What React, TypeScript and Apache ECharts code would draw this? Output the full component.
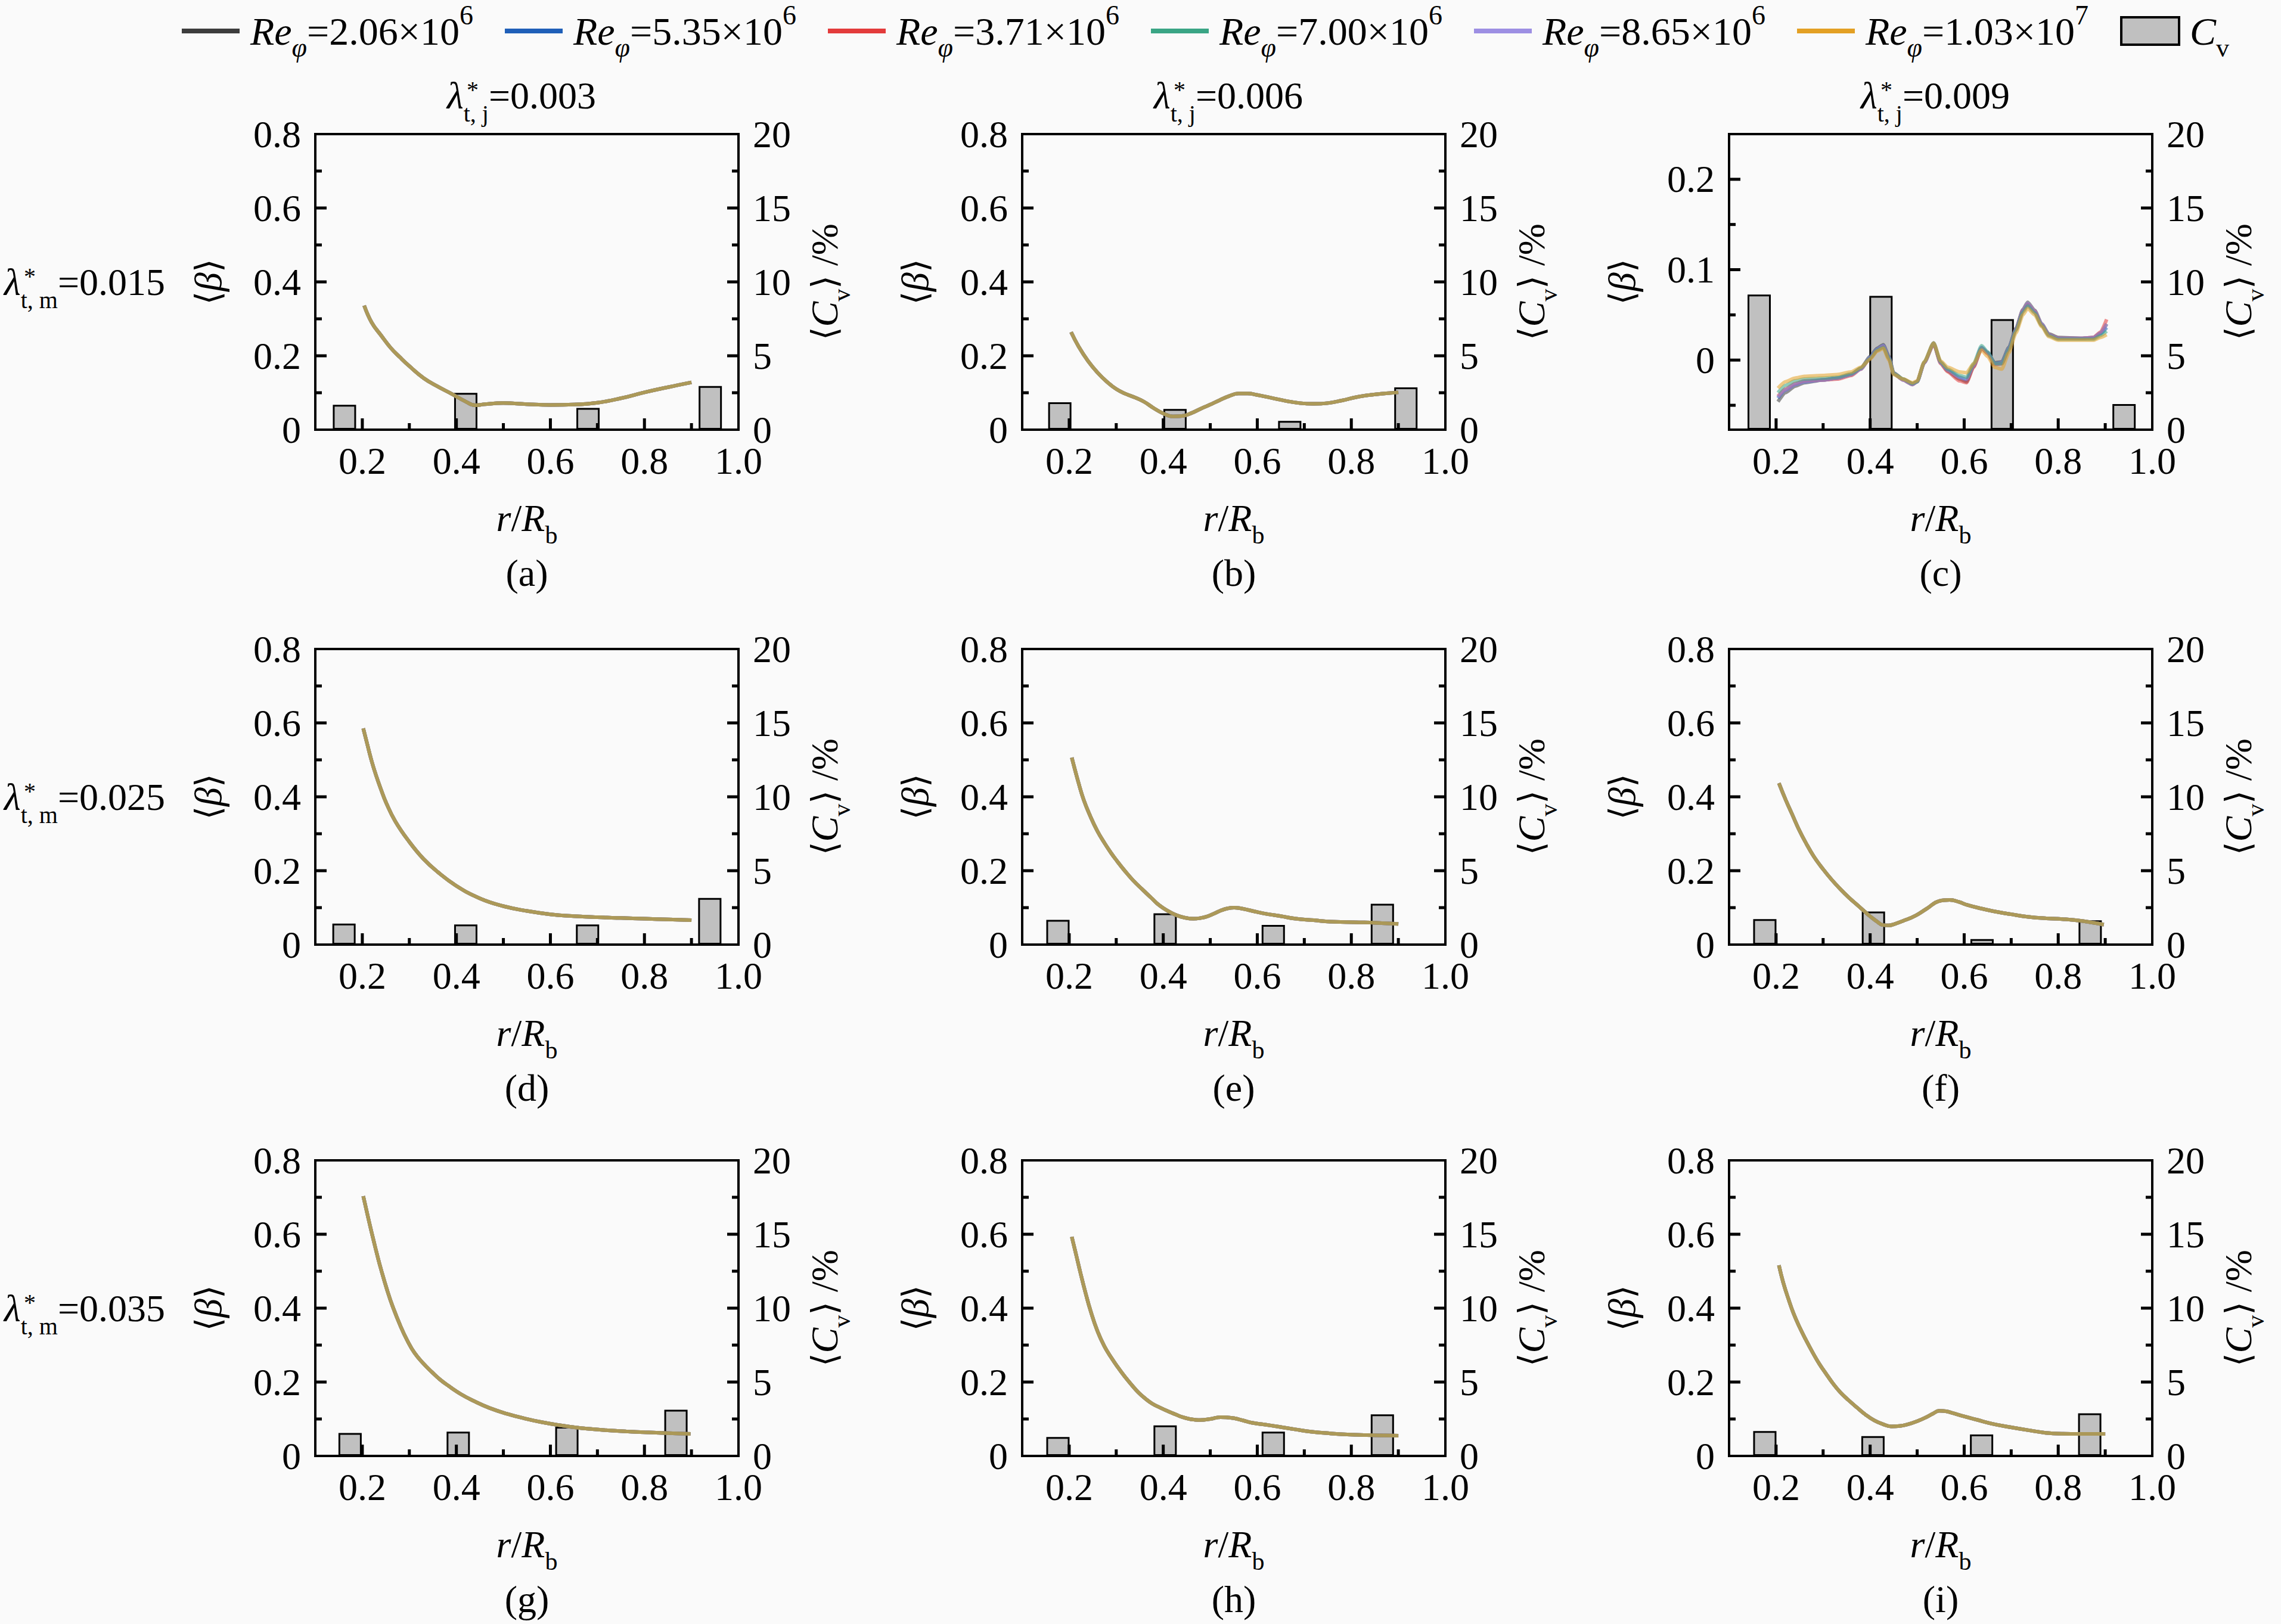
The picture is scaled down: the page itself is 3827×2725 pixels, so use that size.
import React, { useEffect, useRef } from 'react';
import * as echarts from 'echarts';

const FONT = 'Liberation Serif';
const BRACKET_FONT = 'DejaVu Sans';

// ---------- legend / labels ----------
const reMantissa = ['2.06', '5.35', '3.71', '7.00', '8.65', '1.03'];
const reExponent = ['6', '6', '6', '6', '6', '7'];
const lineColors = ['#3d3d3d', '#1f5fb8', '#e33b3b', '#3aa585', '#9d8fe3', '#e3a024'];
const drawOrder = [0, 1, 2, 4, 3, 5];
const cvName = 'Cv';
const lambdaJ = ['0.003', '0.006', '0.009'];
const lambdaM = ['0.015', '0.025', '0.035'];
const panelLetters = ['(a)', '(b)', '(c)', '(d)', '(e)', '(f)', '(g)', '(h)', '(i)'];

// ---------- tick values ----------
const rTickMajor = [0.2, 0.4, 0.6, 0.8];
const rTickMinor = [0.3, 0.5, 0.7, 0.9];
const betaTickMajor = [0.2, 0.4, 0.6];
const betaTickMinor = [0.1, 0.3, 0.5, 0.7];
const betaTickMajorC = [0, 0.1, 0.2];
const betaTickMinorC = [-0.05, 0.05, 0.15];
const cvTickMajor = [5, 10, 15];
const cvTickMinor = [2.5, 7.5, 12.5, 17.5];

// ---------- data: r/Rb and <beta> ----------
const aR = [0.204, 0.22, 0.24, 0.26, 0.28, 0.30, 0.33, 0.36, 0.39, 0.42, 0.44, 0.46, 0.50, 0.55, 0.60, 0.65, 0.70, 0.75, 0.80, 0.85, 0.90];
const aBeta = [0.336, 0.29, 0.255, 0.222, 0.196, 0.172, 0.14, 0.117, 0.097, 0.076, 0.066, 0.069, 0.072, 0.069, 0.067, 0.068, 0.073, 0.085, 0.101, 0.115, 0.128];

const bR = [0.204, 0.22, 0.24, 0.26, 0.28, 0.30, 0.32, 0.34, 0.36, 0.38, 0.40, 0.42, 0.44, 0.46, 0.48, 0.50, 0.52, 0.54, 0.56, 0.58, 0.60, 0.63, 0.66, 0.69, 0.72, 0.75, 0.78, 0.81, 0.84, 0.87, 0.90];
const bBeta = [0.264, 0.225, 0.186, 0.155, 0.13, 0.11, 0.097, 0.087, 0.075, 0.058, 0.044, 0.036, 0.037, 0.045, 0.057, 0.068, 0.08, 0.091, 0.098, 0.098, 0.094, 0.086, 0.078, 0.072, 0.07, 0.072, 0.079, 0.088, 0.094, 0.098, 0.101];

const cR = [0.204, 0.22, 0.24, 0.26, 0.30, 0.33, 0.36, 0.38, 0.40, 0.415, 0.428, 0.44, 0.45, 0.47, 0.49, 0.50, 0.515, 0.535, 0.55, 0.565, 0.59, 0.605, 0.62, 0.637, 0.65, 0.665, 0.68, 0.695, 0.71, 0.725, 0.735, 0.75, 0.765, 0.78, 0.80, 0.85, 0.875, 0.89, 0.903];
const cBeta1 = [-0.046, -0.036, -0.029, -0.025, -0.022, -0.020, -0.016, -0.009, 0.004, 0.013, 0.017, 0.004, -0.014, -0.021, -0.026, -0.024, -0.003, 0.018, -0.003, -0.012, -0.021, -0.024, -0.007, 0.013, 0.008, -0.003, -0.002, 0.014, 0.035, 0.056, 0.064, 0.055, 0.040, 0.029, 0.025, 0.024, 0.025, 0.030, 0.040];
const cBeta2 = [-0.042, -0.033, -0.027, -0.024, -0.022, -0.020, -0.016, -0.010, 0.003, 0.012, 0.016, 0.003, -0.015, -0.022, -0.027, -0.024, -0.003, 0.019, -0.003, -0.011, -0.019, -0.022, -0.006, 0.014, 0.008, -0.004, -0.003, 0.013, 0.034, 0.055, 0.062, 0.053, 0.039, 0.028, 0.024, 0.024, 0.024, 0.029, 0.036];
const cBeta3 = [-0.040, -0.032, -0.026, -0.023, -0.022, -0.021, -0.017, -0.010, 0.002, 0.011, 0.015, 0.002, -0.015, -0.022, -0.027, -0.024, -0.003, 0.018, -0.004, -0.013, -0.023, -0.025, -0.008, 0.013, 0.007, -0.005, -0.004, 0.012, 0.034, 0.055, 0.062, 0.054, 0.039, 0.028, 0.024, 0.024, 0.025, 0.031, 0.045];
const cBeta4 = [-0.036, -0.028, -0.023, -0.021, -0.020, -0.019, -0.015, -0.009, 0.002, 0.011, 0.014, 0.002, -0.015, -0.021, -0.026, -0.024, -0.002, 0.019, -0.002, -0.010, -0.017, -0.019, -0.004, 0.016, 0.009, -0.004, -0.004, 0.012, 0.033, 0.053, 0.060, 0.052, 0.038, 0.027, 0.023, 0.023, 0.023, 0.027, 0.032];
const cBeta5 = [-0.041, -0.033, -0.027, -0.024, -0.022, -0.020, -0.016, -0.010, 0.003, 0.012, 0.016, 0.003, -0.015, -0.022, -0.027, -0.024, -0.003, 0.019, -0.003, -0.011, -0.019, -0.021, -0.006, 0.014, 0.008, -0.004, -0.003, 0.013, 0.034, 0.055, 0.063, 0.054, 0.040, 0.028, 0.024, 0.024, 0.025, 0.030, 0.040];
const cBeta6 = [-0.031, -0.024, -0.020, -0.018, -0.017, -0.016, -0.013, -0.008, 0.001, 0.010, 0.013, 0.000, -0.016, -0.021, -0.025, -0.023, -0.002, 0.019, -0.001, -0.008, -0.013, -0.014, -0.004, 0.011, 0.004, -0.008, -0.010, 0.008, 0.030, 0.050, 0.057, 0.050, 0.037, 0.026, 0.022, 0.022, 0.022, 0.025, 0.028];

const dR = [0.202, 0.21, 0.22, 0.23, 0.24, 0.25, 0.27, 0.30, 0.33, 0.36, 0.40, 0.45, 0.50, 0.55, 0.60, 0.65, 0.70, 0.75, 0.80, 0.85, 0.90];
const dBeta = [0.585, 0.545, 0.496, 0.455, 0.419, 0.386, 0.334, 0.278, 0.232, 0.197, 0.159, 0.125, 0.104, 0.091, 0.082, 0.077, 0.074, 0.072, 0.07, 0.068, 0.066];

const eR = [0.2055, 0.22, 0.231, 0.245, 0.26, 0.275, 0.289, 0.30, 0.318, 0.335, 0.355, 0.375, 0.391, 0.41, 0.427, 0.445, 0.464, 0.48, 0.493, 0.508, 0.522, 0.537, 0.551, 0.565, 0.58, 0.60, 0.624, 0.65, 0.682, 0.72, 0.755, 0.79, 0.828, 0.865, 0.90];
const eBeta = [0.506, 0.437, 0.391, 0.347, 0.307, 0.275, 0.248, 0.229, 0.2, 0.175, 0.15, 0.126, 0.107, 0.091, 0.08, 0.073, 0.07, 0.072, 0.076, 0.084, 0.092, 0.098, 0.1, 0.098, 0.094, 0.088, 0.082, 0.077, 0.07, 0.066, 0.062, 0.061, 0.06, 0.058, 0.056];

const fR = [0.206, 0.22, 0.234, 0.248, 0.263, 0.28, 0.30, 0.318, 0.336, 0.355, 0.372, 0.387, 0.4015, 0.415, 0.427, 0.44, 0.4525, 0.47, 0.496, 0.52, 0.547, 0.569, 0.59, 0.605, 0.635, 0.664, 0.70, 0.737, 0.775, 0.809, 0.85, 0.897];
const fBeta = [0.437, 0.393, 0.353, 0.313, 0.276, 0.239, 0.204, 0.176, 0.151, 0.127, 0.108, 0.091, 0.075, 0.062, 0.053, 0.052, 0.056, 0.064, 0.078, 0.097, 0.118, 0.121, 0.115, 0.108, 0.098, 0.09, 0.082, 0.075, 0.071, 0.069, 0.064, 0.054];

const gR = [0.202, 0.209, 0.2166, 0.224, 0.231, 0.24, 0.253, 0.265, 0.282, 0.295, 0.311, 0.33, 0.348, 0.365, 0.384, 0.41, 0.435, 0.47, 0.508, 0.545, 0.581, 0.62, 0.654, 0.69, 0.727, 0.765, 0.80, 0.85, 0.898];
const gBeta = [0.703, 0.664, 0.622, 0.583, 0.547, 0.504, 0.448, 0.403, 0.349, 0.314, 0.279, 0.25, 0.227, 0.207, 0.189, 0.167, 0.15, 0.13, 0.114, 0.1015, 0.0915, 0.083, 0.077, 0.0725, 0.0688, 0.066, 0.064, 0.0617, 0.0596];

const hR = [0.2055, 0.215, 0.224, 0.235, 0.2456, 0.26, 0.2747, 0.29, 0.304, 0.318, 0.333, 0.347, 0.362, 0.376, 0.391, 0.41, 0.427, 0.441, 0.456, 0.467, 0.478, 0.50, 0.522, 0.537, 0.551, 0.57, 0.588, 0.615, 0.646, 0.68, 0.719, 0.755, 0.791, 0.845, 0.90];
const hBeta = [0.593, 0.543, 0.495, 0.44, 0.392, 0.338, 0.297, 0.265, 0.239, 0.215, 0.192, 0.172, 0.155, 0.142, 0.132, 0.121, 0.112, 0.105, 0.1, 0.098, 0.097, 0.1, 0.105, 0.104, 0.102, 0.096, 0.09, 0.085, 0.079, 0.072, 0.065, 0.061, 0.058, 0.056, 0.055];

const iR = [0.206, 0.215, 0.2267, 0.237, 0.2486, 0.263, 0.2777, 0.292, 0.307, 0.321, 0.336, 0.354, 0.372, 0.39, 0.4088, 0.427, 0.445, 0.463, 0.4816, 0.50, 0.518, 0.533, 0.547, 0.561, 0.576, 0.60, 0.627, 0.66, 0.70, 0.735, 0.773, 0.81, 0.846, 0.9];
const iBeta = [0.516, 0.47, 0.423, 0.386, 0.352, 0.315, 0.28, 0.249, 0.221, 0.196, 0.173, 0.151, 0.131, 0.112, 0.096, 0.086, 0.08, 0.081, 0.086, 0.094, 0.104, 0.114, 0.122, 0.121, 0.116, 0.107, 0.098, 0.087, 0.0775, 0.07, 0.0626, 0.06, 0.0596, 0.0596];

// ---------- data: Cv bars (r/Rb position, Cv %) ----------
const aBarR = [0.162, 0.42, 0.68, 0.94];
const aCv = [1.68, 2.49, 1.47, 2.95];
const bBarR = [0.18, 0.425, 0.669, 0.916];
const bCv = [1.85, 1.4, 0.59, 2.86];
const cBarR = [0.164, 0.423, 0.681, 0.94];
const cCv = [9.14, 9.05, 7.48, 1.73];
const dBarR = [0.161, 0.42, 0.679, 0.939];
const dCv = [1.42, 1.36, 1.36, 3.16];
const eBarR = [0.176, 0.404, 0.634, 0.866];
const eCv = [1.67, 2.12, 1.33, 2.76];
const fBarR = [0.176, 0.407, 0.638, 0.868];
const fCv = [1.72, 2.24, 0.37, 1.64];
const gBarR = [0.174, 0.404, 0.635, 0.867];
const gCv = [1.55, 1.64, 1.98, 3.13];
const hBarR = [0.176, 0.404, 0.634, 0.866];
const hCv = [1.28, 2.07, 1.64, 2.81];
const iBarR = [0.176, 0.406, 0.637, 0.867];
const iCv = [1.68, 1.34, 1.45, 2.88];

// axis extents
const rMin = 0.1;
const rMax = 1.0;
const betaMin = [0, 0, -0.077, 0, 0, 0, 0, 0, 0];
const betaMax = [0.8, 0.8, 0.25, 0.8, 0.8, 0.8, 0.8, 0.8, 0.8];
const cvMax = 20;

const panels = [
  { r: aR, betas: [aBeta, aBeta, aBeta, aBeta, aBeta, aBeta], barR: aBarR, cv: aCv },
  { r: bR, betas: [bBeta, bBeta, bBeta, bBeta, bBeta, bBeta], barR: bBarR, cv: bCv },
  { r: cR, betas: [cBeta1, cBeta2, cBeta3, cBeta4, cBeta5, cBeta6], barR: cBarR, cv: cCv },
  { r: dR, betas: [dBeta, dBeta, dBeta, dBeta, dBeta, dBeta], barR: dBarR, cv: dCv },
  { r: eR, betas: [eBeta, eBeta, eBeta, eBeta, eBeta, eBeta], barR: eBarR, cv: eCv },
  { r: fR, betas: [fBeta, fBeta, fBeta, fBeta, fBeta, fBeta], barR: fBarR, cv: fCv },
  { r: gR, betas: [gBeta, gBeta, gBeta, gBeta, gBeta, gBeta], barR: gBarR, cv: gCv },
  { r: hR, betas: [hBeta, hBeta, hBeta, hBeta, hBeta, hBeta], barR: hBarR, cv: hCv },
  { r: iR, betas: [iBeta, iBeta, iBeta, iBeta, iBeta, iBeta], barR: iBarR, cv: iCv },
];

// ---------- layout ----------
const PAGE_W = 3827;
const PAGE_H = 2725;
const colLeft = [529, 1715, 2901];
const rowTop = [225, 1089, 1947];
const plotW = 710;
const plotH = 496;
const TICK_MAJOR = 19;
const TICK_MINOR = 11;

const seriesNames = reMantissa.map((m, k) => `Re_φ=${m}×10^${reExponent[k]}`);

const txt = { fontFamily: FONT, color: '#000' };
const rich: any = {
  n: { ...txt, fontSize: 64, lineHeight: 100 },
  i: { ...txt, fontSize: 64, lineHeight: 100, fontStyle: 'italic' },
  sub: { ...txt, fontSize: 42, lineHeight: 60, verticalAlign: 'bottom' },
  br: { fontFamily: BRACKET_FONT, color: '#000', fontSize: 58, lineHeight: 100 },
  ls: { ...txt, fontSize: 40, lineHeight: 54, verticalAlign: 'bottom' },
};
const legendRich: any = {
  n: { ...txt, fontSize: 66, lineHeight: 100 },
  ip: { ...txt, fontSize: 66, lineHeight: 100, fontStyle: 'italic', padding: [0, 0, 0, 13] },
  sub: { ...txt, fontSize: 44, lineHeight: 56, verticalAlign: 'bottom' },
  subi: { ...txt, fontSize: 46, lineHeight: 52, verticalAlign: 'bottom', fontStyle: 'italic' },
  sup: { ...txt, fontSize: 46, lineHeight: 58, verticalAlign: 'top' },
};

const fmtBeta = (v: number) => (Math.abs(v) < 1e-9 ? '0' : (Math.round(v * 10) / 10).toFixed(1));
const fmtR = (v: number) => (Math.round(v * 10) / 10).toFixed(1);
const fmtCv = (v: number) => String(Math.round(v));

const frameStyle = { color: '#000', width: 4 };
const labelBase = { show: true, fontFamily: FONT, fontSize: 64, color: '#000', lineHeight: 50 };

function buildTexts() {
  const els: any[] = [];
  panels.forEach((p, idx) => {
    const col = idx % 3;
    const row = Math.floor(idx / 3);
    els.push({
      type: 'text', x: colLeft[col] + plotW / 2, y: rowTop[row] + plotH + 240, silent: true,
      style: { text: panelLetters[idx], fontFamily: FONT, fontSize: 64, fill: '#000', textAlign: 'center', verticalAlign: 'middle' },
    });
  });
  lambdaJ.forEach((v, c) => {
    const x0 = colLeft[c] + plotW / 2 - 134;
    els.push({
      type: 'text', x: x0, y: 160, silent: true,
      style: { text: `{i|λ}{ls|t, j}{n|=${v}}`, rich, fontFamily: FONT, fontSize: 64, fill: '#000', textAlign: 'left', verticalAlign: 'middle' },
    });
    els.push({
      type: 'text', x: x0 + 33, y: 150, silent: true,
      style: { text: '*', fontFamily: FONT, fontSize: 40, fill: '#000', textAlign: 'left', verticalAlign: 'middle' },
    });
  });
  lambdaM.forEach((v, r) => {
    const yc = rowTop[r] + plotH / 2;
    els.push({
      type: 'text', x: 7, y: yc, silent: true,
      style: { text: `{i|λ}{ls|t, m}{n|=${v}}`, rich, fontFamily: FONT, fontSize: 64, fill: '#000', textAlign: 'left', verticalAlign: 'middle' },
    });
    els.push({
      type: 'text', x: 40, y: yc - 10, silent: true,
      style: { text: '*', fontFamily: FONT, fontSize: 40, fill: '#000', textAlign: 'left', verticalAlign: 'middle' },
    });
  });
  return els;
}

function buildOption() {
  const grid: any[] = [];
  const xAxis: any[] = [];
  const yAxis: any[] = [];
  const series: any[] = [];

  panels.forEach((p, idx) => {
    const col = idx % 3;
    const row = Math.floor(idx / 3);
    const special = betaMin[idx] !== 0;
    grid.push({
      left: colLeft[col], top: rowTop[row], width: plotW, height: plotH,
      show: true, borderColor: '#000', borderWidth: 4, backgroundColor: 'rgba(0,0,0,0)',
      containLabel: false, outerBoundsMode: 'none',
    });
    xAxis.push({
      type: 'value', gridIndex: idx, position: 'bottom', min: rMin, max: rMax,
      minInterval: 0.2, maxInterval: 0.2, z: 10,
      axisLine: { show: true, onZero: false, lineStyle: frameStyle },
      axisTick: { show: false },
      axisLabel: { ...labelBase, margin: 27, showMinLabel: false, showMaxLabel: true, formatter: fmtR },
      splitLine: { show: false },
      name: '{i|r}{n|/}{i|R}{sub|b}', nameLocation: 'middle', nameGap: 98, nameMoveOverlap: false,
      nameTextStyle: { rich, fontFamily: FONT, fontSize: 64, color: '#000' },
    });
    const leftAxis: any = {
      type: 'value', gridIndex: idx, position: 'left', min: betaMin[idx], max: betaMax[idx], z: 10,
      axisLine: { show: true, onZero: false, lineStyle: frameStyle },
      axisTick: { show: false },
      axisLabel: { ...labelBase, margin: 24, showMinLabel: !special, showMaxLabel: !special, formatter: fmtBeta },
      splitLine: { show: false },
      name: '{br|⟨}{i|β}{br|⟩}', nameLocation: 'middle', nameGap: 130, nameRotate: 90, nameMoveOverlap: false,
      nameTextStyle: { rich, fontFamily: FONT, fontSize: 64, color: '#000' },
    };
    if (special) { leftAxis.minInterval = 0.1; leftAxis.maxInterval = 0.1; } else { leftAxis.interval = 0.2; }
    yAxis.push(leftAxis);
    yAxis.push({
      type: 'value', gridIndex: idx, position: 'right', min: 0, max: cvMax, interval: 5, z: 10,
      axisLine: { show: true, onZero: false, lineStyle: frameStyle },
      axisTick: { show: false },
      axisLabel: { ...labelBase, margin: 24, showMinLabel: true, showMaxLabel: true, formatter: fmtCv },
      splitLine: { show: false },
      name: '{br|⟨}{i|C}{sub|v}{br|⟩}{n| /%}', nameLocation: 'middle', nameGap: 94, nameRotate: 90, nameMoveOverlap: false,
      nameTextStyle: { rich, fontFamily: FONT, fontSize: 64, color: '#000' },
    });

    series.push({
      type: 'bar', name: cvName, xAxisIndex: idx, yAxisIndex: idx * 2 + 1, barWidth: 39, z: 2, silent: true,
      itemStyle: { color: '#c0c0c0', borderColor: '#000', borderWidth: 3 },
      data: p.barR.map((x, k) => [x, p.cv[k]]),
    });
    drawOrder.forEach((k) => {
      const b = p.betas[k];
      const s: any = {
        type: 'line', name: seriesNames[k], xAxisIndex: idx, yAxisIndex: idx * 2, z: 3, silent: true,
        symbol: 'none', showSymbol: false, smooth: special ? 0.2 : 0.45,
        itemStyle: { color: lineColors[k] },
        lineStyle: { color: lineColors[k], width: 6, opacity: 0.55 },
        data: p.r.map((x, j) => [x, b[j]]),
      };
      if (special) s.smoothMonotone = 'x';
      series.push(s);
    });
  });

  const legendData: any[] = seriesNames.map((n) => ({ name: n, icon: 'path://M0 0H100V8H0Z' }));
  legendData.push({ name: cvName, icon: 'rect', itemStyle: { color: '#c0c0c0', borderColor: '#000', borderWidth: 4 } });

  return {
    animation: false,
    backgroundColor: '#fafafa',
    textStyle: { fontFamily: FONT },
    legend: {
      show: true, left: 305, top: 2, width: 3500, padding: 0, orient: 'horizontal',
      itemWidth: 97, itemHeight: 46, itemGap: 53, selectedMode: false,
      data: legendData,
      formatter: (name: string) => {
        if (name === cvName) return '{ip|C}{sub|v}';
        const k = seriesNames.indexOf(name);
        return `{ip|Re}{subi|φ}{n|=${reMantissa[k]}×10}{sup|${reExponent[k]}}`;
      },
      textStyle: { fontFamily: FONT, fontSize: 66, color: '#000', rich: legendRich },
    },
    grid, xAxis, yAxis, series,
  };
}

// inward ticks placed through the axes' own scales
function buildTicks(chart: any) {
  const els: any[] = [];
  const seg = (x1: number, y1: number, x2: number, y2: number) => ({
    type: 'line', silent: true, z: 50,
    shape: { x1, y1, x2, y2 },
    style: { stroke: '#000', lineWidth: 5 },
  });
  panels.forEach((p, idx) => {
    const col = idx % 3;
    const row = Math.floor(idx / 3);
    const left = colLeft[col];
    const right = left + plotW;
    const bottom = rowTop[row] + plotH;
    const special = betaMin[idx] !== 0;
    const xPix = (v: number) => Number(chart.convertToPixel({ xAxisIndex: idx }, v));
    const lPix = (v: number) => Number(chart.convertToPixel({ yAxisIndex: idx * 2 }, v));
    const rPix = (v: number) => Number(chart.convertToPixel({ yAxisIndex: idx * 2 + 1 }, v));
    rTickMajor.forEach((v) => { const x = xPix(v); els.push(seg(x, bottom, x, bottom - TICK_MAJOR)); });
    rTickMinor.forEach((v) => { const x = xPix(v); els.push(seg(x, bottom, x, bottom - TICK_MINOR)); });
    (special ? betaTickMajorC : betaTickMajor).forEach((v) => { const y = lPix(v); els.push(seg(left, y, left + TICK_MAJOR, y)); });
    (special ? betaTickMinorC : betaTickMinor).forEach((v) => { const y = lPix(v); els.push(seg(left, y, left + TICK_MINOR, y)); });
    cvTickMajor.forEach((v) => { const y = rPix(v); els.push(seg(right, y, right - TICK_MAJOR, y)); });
    cvTickMinor.forEach((v) => { const y = rPix(v); els.push(seg(right, y, right - TICK_MINOR, y)); });
  });
  return els;
}

export default function App() {
  const ref = useRef<HTMLDivElement>(null);
  useEffect(() => {
    document.body.style.margin = '0';
    if (!ref.current) return;
    const chart = echarts.init(ref.current, null, { renderer: 'svg' });
    chart.setOption(buildOption() as any);
    const elements = buildTexts().concat(buildTicks(chart));
    chart.setOption({ graphic: { elements } });
    return () => chart.dispose();
  }, []);
  return <div ref={ref} style={{ width: PAGE_W, height: PAGE_H, background: '#fafafa' }} />;
}
